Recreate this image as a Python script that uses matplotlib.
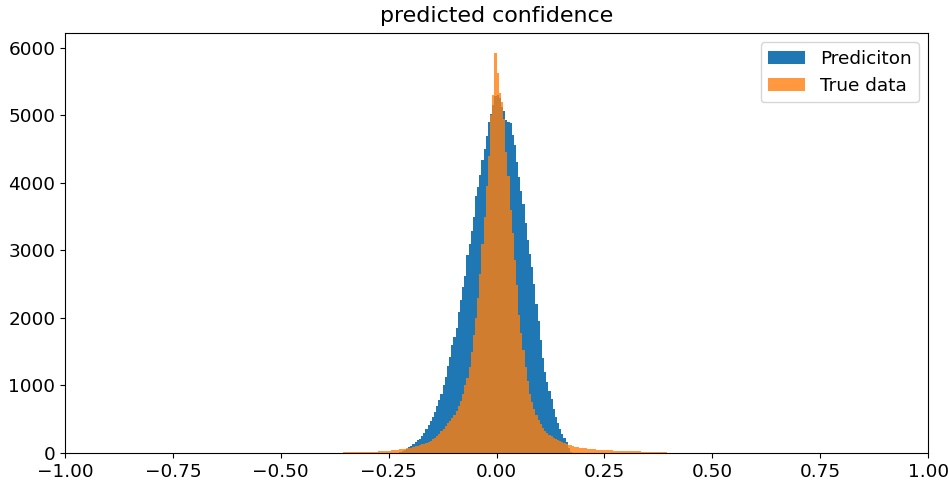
import numpy as np
import matplotlib
matplotlib.use('Agg')
import matplotlib.pyplot as plt

BIN_WIDTH = 0.005

# Prediciton counts, first bin starts at -0.225
pred_start = -0.225
pred_counts = [
    10, 25, 45, 65, 85, 110, 135, 160, 190, 215,
    250, 300, 360, 420, 470, 540, 610, 690, 790, 880,
    1000, 1120, 1290, 1420, 1600, 1720, 1850, 2080, 2270, 2450,
    2620, 2930, 3100, 3280, 3500, 3800, 3940, 4120, 4330, 4500,
    4690, 4900, 5010, 5150, 5280, 5300, 5250, 5120, 5060, 4930,
    4900, 4880, 4700, 4560, 4300, 4080, 3880, 3680, 3400, 3150,
    2950, 2750, 2500, 2200, 1950, 1680, 1400, 1200, 1050, 920,
    800, 650, 530, 450, 350, 280, 230, 170, 80, 20,
]

# True data counts, first bin starts at -0.36
true_start = -0.36
true_counts = [
    8, 15, 12, 15, 14, 16, 15, 17, 16, 18,
    17, 19, 18, 20, 21, 22, 22, 24, 25, 27,
    30, 33, 37, 42, 45, 48, 52, 55, 60, 65,
    70, 76, 82, 90, 98, 107, 117, 128, 140, 155,
    170, 185, 205, 228, 255, 285, 320, 360, 400, 440,
    480, 520, 560, 620, 690, 770, 880, 1000, 1110, 1280,
    1500, 1750, 2000, 2300, 2650, 3100, 3500, 3950, 4400, 5000,
    5300, 5920, 5620, 5330, 5200, 4950, 4450, 4100, 3600, 3250,
    2850, 2480, 2050, 1780, 1520, 1280, 1060, 880, 760, 650,
    560, 490, 430, 370, 330, 300, 270, 245, 225, 205,
    190, 175, 160, 148, 135, 122, 112, 102, 94, 86,
    80, 75, 72, 68, 65, 62, 58, 55, 52, 50,
    47, 45, 42, 40, 39, 38, 37, 35, 34, 33,
    32, 31, 30, 28, 27, 26, 25, 24, 23, 22,
    21, 20, 19, 18, 17, 16, 15, 14, 13, 12,
    10, 8,
]

x_ticks = [-1.0, -0.75, -0.5, -0.25, 0.0, 0.25, 0.5, 0.75, 1.0]


def bin_edges(start, counts):
    '''Edges for a run of equal width bins beginning at start.'''
    return start + BIN_WIDTH * np.arange(len(counts) + 1)


def main():
    plt.rcParams['font.size'] = 13.3
    fig = plt.figure(figsize=(9.49, 4.83), dpi=100)
    ax = fig.add_axes([0.0685, 0.062, 0.9095, 0.8697])

    e1 = bin_edges(pred_start, pred_counts)
    ax.hist(e1[:-1], bins=e1, weights=pred_counts, color='#1f77b4', label='Prediciton')
    e2 = bin_edges(true_start, true_counts)
    ax.hist(e2[:-1], bins=e2, weights=true_counts, color='#ff7f0e', alpha=0.8, label='True data')

    ax.set_xlim(-1, 1)
    ax.set_xticks(x_ticks)
    ax.set_title('predicted confidence', pad=8)
    ax.legend(loc='upper right')

    fig.savefig('out.png', dpi=100)


if __name__ == '__main__':
    main()
